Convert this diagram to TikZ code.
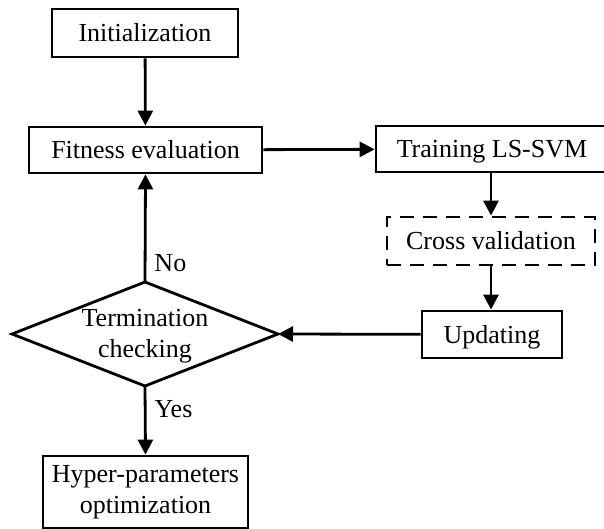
\documentclass[tikz,border=0pt]{standalone}
\usepackage{fontspec}
\setmainfont{Liberation Serif}
\usetikzlibrary{arrows.meta}
\begin{document}
\begin{tikzpicture}[x=1pt,y=-1pt,
  every node/.style={font=\fontsize{26}{31}\selectfont, inner sep=0pt, align=center},
  stepbox/.style={draw, line width=2.8pt, rectangle},
  oneline/.style={text height=17.5pt, text depth=0pt},
  dashbox/.style={stepbox, dash pattern=on 14pt off 9pt},
  flow/.style={line width=2.8pt, -{Triangle[length=15pt,width=15pt]}},
  lbl/.style={anchor=west}]
\useasboundingbox (0,0) rectangle (604,529);
% process boxes
\node[stepbox, oneline, minimum width=186pt, minimum height=48pt] (init) at (145,33) {Initialization};
\node[stepbox, oneline, minimum width=233pt, minimum height=46pt] (fit) at (145.5,150) {Fitness evaluation};
\node[stepbox, oneline, minimum width=232pt, minimum height=46pt] (train) at (492,149) {Training LS-SVM};
\node[dashbox, oneline, minimum width=208pt, minimum height=48pt] (cross) at (491,241) {Cross validation};
\node[stepbox, oneline, minimum width=140pt, minimum height=47pt] (upd) at (492,334.5) {Updating};
% decision: text with a hand-drawn diamond outline
\node (term) at (145,336) {Termination\\checking};
\coordinate (termN) at (145,282);
\coordinate (termE) at (278,334);
\coordinate (termS) at (145,386);
\coordinate (termW) at (12,334);
\draw[line width=2.8pt, line join=miter] (termN) -- (termE) -- (termS) -- (termW) -- cycle;
\node[stepbox, minimum width=205pt, minimum height=72pt] (hyper) at (145.5,492) {Hyper-parameters\\optimization};
% connectors
\draw[flow] (init) -- (fit);
\draw[flow] (fit) -- (train);
\draw[flow] (train.south -| cross) -- (cross);
\draw[flow] (cross) -- (upd.north -| cross);
\draw[flow] (upd) -- (termE);
\draw[flow] (termN) -- node[lbl, xshift=8pt, pos=0.18] (no) {No} (fit.south);
\draw[flow] (termS) -- node[lbl, xshift=8pt, pos=0.34] (yes) {Yes} (hyper.north);
\end{tikzpicture}
\end{document}
